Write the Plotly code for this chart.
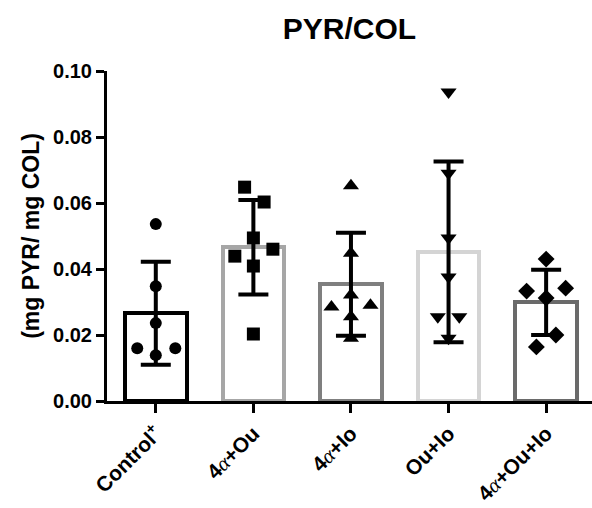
import plotly.graph_objects as go

# Groups, bar summary (mean, SD) and individual measurements (mg PYR / mg COL)
alpha = '<span style="font-family:Liberation Serif;font-weight:normal;font-style:italic">α</span>'
groups = ["Control<sup>+</sup>", f"4{alpha}+Ou", f"4{alpha}+Io", "Ou+Io", f"4{alpha}+Ou+Io"]
means = [0.0266, 0.0466, 0.0354, 0.0452, 0.0299]
sds = [0.0156, 0.0143, 0.0156, 0.0274, 0.0099]

control_pts = [0.0536, 0.0348, 0.0236, 0.0160, 0.0160, 0.0139]
a_ou_pts = [0.0648, 0.0603, 0.0494, 0.0460, 0.0439, 0.0409, 0.0203]
a_io_pts = [0.0652, 0.0448, 0.0321, 0.0285, 0.0290, 0.0255, 0.0190]
ou_io_pts = [0.0936, 0.0690, 0.0494, 0.0376, 0.0255, 0.0255, 0.0190]
a_ou_io_pts = [0.0430, 0.0333, 0.0342, 0.0312, 0.0200, 0.0164]

# horizontal scatter offsets of the points within each group (category units)
control_dx = [0, 0, 0, -0.19, 0.20, 0]
a_ou_dx = [-0.09, 0.11, 0, 0.20, -0.19, 0, 0]
a_io_dx = [0, 0, 0, -0.20, 0.20, 0, 0]
ou_io_dx = [0, 0, 0, 0, -0.11, 0.11, 0]
a_ou_io_dx = [0, -0.20, 0.20, 0, 0.10, -0.10]

points = [control_pts, a_ou_pts, a_io_pts, ou_io_pts, a_ou_io_pts]
offsets = [control_dx, a_ou_dx, a_io_dx, ou_io_dx, a_ou_io_dx]
symbols = ["circle", "square", "triangle-up", "triangle-down", "diamond"]
marker_sizes = [12, 13, 14, 14, 13]
outline_colors = ["#000000", "#a6a6a6", "#7f7f7f", "#d4d4d4", "#6a6a6a"]

positions = list(range(len(groups)))

fig = go.Figure()
fig.add_trace(go.Bar(
    x=positions, y=means, width=0.63,
    marker=dict(color="white", line=dict(color=outline_colors, width=4)),
    error_y=dict(type="data", array=sds, visible=True, color="black",
                 thickness=4, width=15),
    showlegend=False,
))

for i, (vals, dx) in enumerate(zip(points, offsets)):
    fig.add_trace(go.Scatter(
        x=[positions[i] + d for d in dx], y=vals, mode="markers",
        marker=dict(symbol=symbols[i], size=marker_sizes[i], color="black"),
        showlegend=False, cliponaxis=False,
    ))

fig.update_layout(
    width=592, height=508,
    margin=dict(l=107, r=0, t=71, b=107),
    paper_bgcolor="white", plot_bgcolor="white",
    font=dict(family="Liberation Sans, Arial, sans-serif", color="black"),
    title=dict(text="<b>PYR/COL</b>", x=0.5, xref="paper", xanchor="center",
               y=0.943, yref="container", yanchor="middle",
               font=dict(size=30, color="black")),
    bargap=0,
)

fig.update_xaxes(
    range=[-0.5, 4.47], tickmode="array", tickvals=positions, ticktext=groups,
    tickangle=-45, ticks="outside", ticklen=9, tickwidth=3, tickcolor="black",
    showline=True, linecolor="black", linewidth=3, showgrid=False, zeroline=False,
    tickfont=dict(size=21, weight="bold", color="black"),
)
fig.update_yaxes(
    range=[0, 0.10], tickmode="array", tickvals=[0, 0.02, 0.04, 0.06, 0.08, 0.10],
    tickformat=".2f", ticks="outside", ticklen=8, tickwidth=3, tickcolor="black",
    showline=True, linecolor="black", linewidth=3, showgrid=False, zeroline=False,
    tickfont=dict(size=20, weight="bold", color="black"),
    title=dict(text="<b>(mg PYR/ mg COL)</b>", font=dict(size=23, color="black"),
               standoff=8),
)

fig.write_html("out.html")
